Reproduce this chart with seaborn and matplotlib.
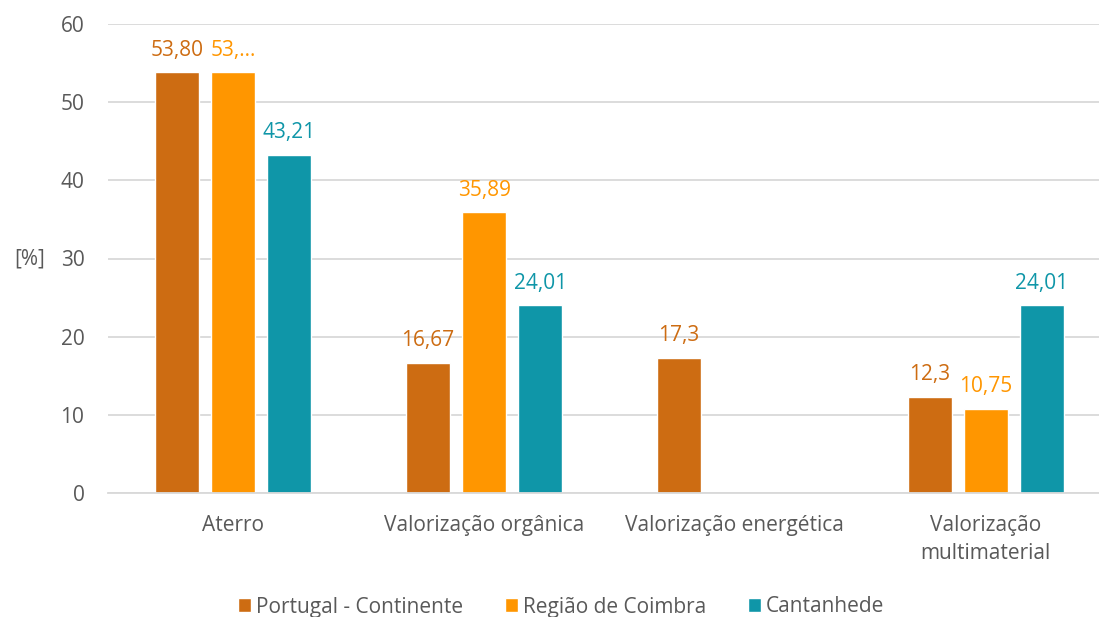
import numpy as np
import pandas as pd
import matplotlib
matplotlib.use("Agg")
import matplotlib.pyplot as plt
import seaborn as sns

categories = ["Aterro", "Valorização orgânica", "Valorização energética", "Valorização\nmultimaterial"]
series = ["Portugal - Continente", "Região de Coimbra", "Cantanhede"]
portugal = [53.80, 16.67, 17.3, 12.3]
coimbra = [53.80, 35.89, np.nan, 10.75]
cantanhede = [43.21, 24.01, np.nan, 24.01]
portugal_labels = ["53,80", "16,67", "17,3", "12,3"]
coimbra_labels = ["53,...", "35,89", "", "10,75"]
cantanhede_labels = ["43,21", "24,01", "", "24,01"]
yticks = [0, 10, 20, 30, 40, 50, 60]

colors = ["#CD6C12", "#FF9600", "#0F96A8"]
text_gray = "#595959"
FS = 15

sns.set_theme(style="white")
plt.rcParams["font.family"] = ["Open Sans", "DejaVu Sans"]

rows = []
for name, vals in zip(series, [portugal, coimbra, cantanhede]):
    for cat, v in zip(categories, vals):
        rows.append({"cat": cat, "serie": name, "val": v})
df = pd.DataFrame(rows)

fig = plt.figure(figsize=(10.99, 6.17), dpi=100)
ax = fig.add_axes([108 / 1099, 1 - 493 / 617, 1003 / 1099, (493 - 24) / 617])

sns.barplot(data=df, x="cat", y="val", hue="serie", order=categories,
            hue_order=series, palette=colors, width=0.67, gap=0.214,
            errorbar=None, ax=ax, legend=True, saturation=1)

ax.set_ylim(0, 60)
ax.set_yticks(yticks)
ax.set_xlim(-0.5, len(categories) - 0.5)
ax.yaxis.grid(True, color="#D9D9D9", linewidth=1.3)
ax.set_axisbelow(True)
for s in ["top", "right", "left"]:
    ax.spines[s].set_visible(False)
ax.spines["bottom"].set_color("#D9D9D9")
ax.spines["bottom"].set_linewidth(1.3)
ax.tick_params(axis="both", length=0, labelsize=FS, colors=text_gray)
ax.tick_params(axis="y", pad=17)
ax.tick_params(axis="x", pad=16)
for t in ax.get_xticklabels():
    t.set_linespacing(1.4)
ax.set_xlabel("")
ax.set_ylabel("[%]", rotation=0, fontsize=FS, color=text_gray, va="center", ha="center")
ax.yaxis.set_label_coords(-78 / 1003, 0.5)

# value labels above each bar, in the colour of its series
all_labels = [portugal_labels, coimbra_labels, cantanhede_labels]
all_vals = [portugal, coimbra, cantanhede]
for labels, vals, col in zip(all_labels, all_vals, colors):
    rgb = matplotlib.colors.to_rgb(col)
    for ci, (lab, v) in enumerate(zip(labels, vals)):
        if np.isnan(v):
            continue
        for p in ax.patches:
            cx = p.get_x() + p.get_width() / 2
            if tuple(p.get_facecolor()[:3]) == rgb and abs(cx - ci) < 0.5 and p.get_height() > 0:
                ax.annotate(lab, (cx, p.get_height()), xytext=(0, 8.5), textcoords="offset points",
                            ha="center", va="bottom", fontsize=FS, color=col)
                break

handles, labels = ax.get_legend_handles_labels()
ax.legend_.remove()
fig.legend(handles, labels, loc="center", bbox_to_anchor=(561 / 1099, 1 - 607 / 617), ncol=3,
           frameon=False, fontsize=FS, handlelength=0.62, handleheight=0.62, handletextpad=0.25,
           columnspacing=2.0, labelcolor=text_gray, borderaxespad=0)

fig.savefig("out.png", dpi=100)
